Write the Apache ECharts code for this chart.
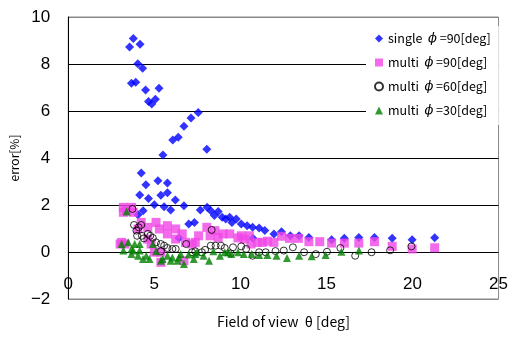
<!DOCTYPE html>
<html>
<head>
<meta charset="utf-8">
<script src="https://cdn.jsdelivr.net/npm/echarts@6/dist/echarts.min.js"></script>
<style>
  html, body { margin: 0; padding: 0; background: #fff; }
  #main { width: 511px; height: 337px; }
</style>
</head>
<body>
<div id="main"></div>
<script>
// 凡例の名前
var seriesNames = ['single', 'multi90', 'multi60', 'multi30'];

// single φ=90 [視野角, 誤差]
var singleData = [
  [3.56,8.72],[3.78,9.09],[4.17,8.84],[4.04,8.01],[4.32,7.82],[3.67,7.18],[3.92,7.22],[4.49,6.89],
  [5.27,6.97],[4.66,6.40],[4.85,6.30],[5.06,6.50],[7.55,5.94],[7.13,5.70],[6.72,5.35],[6.39,4.88],
  [6.07,4.77],[8.05,4.37],[5.50,4.13],[4.24,3.36],[4.51,2.86],[5.21,3.03],[5.76,2.94],[4.15,2.43],
  [4.66,2.28],[5.38,2.41],[5.76,2.52],[6.22,2.21],[5.00,2.01],[5.57,1.93],[5.95,1.79],[6.72,1.97],
  [4.35,1.76],[4.05,1.59],[7.00,1.19],[7.33,1.26],[6.43,0.60],[7.67,1.79],[8.07,1.90],[8.28,1.76],
  [8.49,1.55],[8.71,1.72],[8.94,1.48],[9.15,1.40],[9.38,1.48],[9.51,1.26],[9.76,1.40],[10.05,1.19],
  [10.39,1.12],[10.71,1.05],[11.09,1.02],[11.42,0.91],[11.95,0.77],[12.39,0.86],[12.90,0.69],
  [13.41,0.69],[13.98,0.62],[15.30,0.52],[16.04,0.58],[16.88,0.62],[17.79,0.62],[18.82,0.58],
  [19.98,0.52],[21.29,0.61],[10.73,0.58]
];

// multi φ=90
var multi90Data = [
  [3.01,0.34],[3.10,0.41],[3.20,1.69],[3.20,1.90],[3.29,0.34],[3.39,1.76],[3.67,1.90],[3.77,1.69],
  [4.05,0.98],[4.24,1.26],[4.62,1.05],[4.62,0.55],[4.81,0.34],[5.10,1.26],[5.29,0.98],[5.38,-0.01],
  [5.00,-0.01],[5.38,-0.44],[5.76,1.12],[5.76,0.77],[6.24,0.98],[6.24,0.55],[6.62,0.77],[6.81,0.41],
  [6.72,-0.37],[7.19,0.34],[7.38,0.41],[7.57,0.69],[8.05,1.05],[8.24,0.69],[8.52,0.91],[8.71,0.62],
  [9.00,0.77],[9.38,0.77],[9.86,0.60],[10.05,0.69],[10.23,0.55],[10.52,0.69],[10.62,0.34],[11.00,0.41],
  [11.28,0.41],[11.57,0.46],[11.95,0.41],[12.39,0.67],[12.86,0.58],[13.37,0.58],[13.98,0.44],
  [14.61,0.44],[15.30,0.38],[16.04,0.38],[16.88,0.38],[17.79,0.44],[18.82,0.24],[19.98,0.13],[21.29,0.18]
];

// multi φ=60
var multi60Data = [
  [3.73,1.83],[3.82,1.15],[3.96,0.91],[4.00,0.69],[4.09,1.05],[4.24,1.15],[4.28,0.69],[4.39,0.58],
  [4.62,0.77],[4.76,0.69],[4.91,0.60],[5.10,0.41],[5.38,0.34],[5.38,0.03],[5.57,0.27],[5.76,0.17],
  [6.05,0.13],[6.24,0.13],[6.85,0.34],[7.19,-0.01],[7.38,0.03],[7.76,-0.01],[7.95,0.09],[8.28,0.27],
  [8.33,0.94],[8.56,0.27],[8.87,0.27],[9.09,0.17],[9.44,-0.06],[9.57,0.20],[10.05,0.24],[10.33,0.13],
  [10.71,-0.16],[11.09,-0.01],[11.47,-0.01],[12.04,0.04],[12.52,0.06],[13.05,0.20],[13.70,-0.01],
  [14.38,-0.09],[15.03,0.01],[15.81,0.17],[16.67,-0.16],[17.62,-0.01],[18.70,0.07],[19.94,0.24]
];

// multi φ=30
var multi30Data = [
  [3.10,0.34],[3.20,0.06],[3.39,1.72],[3.48,0.41],[3.67,0.13],[3.67,-0.09],[3.86,0.34],[3.77,0.06],
  [4.15,0.34],[4.15,0.06],[4.05,-0.16],[4.34,-0.30],[4.53,-0.16],[4.72,-0.30],[4.91,0.34],[5.10,0.03],
  [5.38,-0.37],[5.48,-0.30],[5.76,-0.16],[5.95,-0.37],[6.05,-0.23],[6.34,-0.37],[6.43,-0.23],[6.53,-0.09],
  [6.72,-0.51],[7.00,-0.11],[7.29,-0.30],[7.38,-0.09],[7.48,-0.01],[7.86,-0.16],[8.18,-0.37],[8.43,0.03],
  [8.81,-0.16],[9.09,-0.01],[9.29,-0.01],[9.47,-0.09],[9.86,-0.01],[10.20,-0.09],[10.66,-0.09],
  [11.09,-0.13],[11.57,-0.13],[12.10,-0.16],[12.71,-0.25],[13.41,-0.16],[14.14,-0.18],[14.95,-0.13],
  [15.87,0.01],[16.89,0.06]
];

// 凡例ラベル
var legendLabels = {
  single: 'single  {p|ϕ} =90[deg]',
  multi90: 'multi  {p|ϕ} =90[deg]',
  multi60: 'multi  {p|ϕ} =60[deg]',
  multi30: 'multi  {p|ϕ} =30[deg]'
};

var chart = echarts.init(document.getElementById('main'));

var fontJP = '"Noto Sans CJK JP", "Liberation Sans", sans-serif';

var option = {
  animation: false,
  backgroundColor: '#fff',
  grid: {
    left: 64, right: 9, top: 17, bottom: 38,
    show: true,
    borderColor: '#888',
    borderWidth: 1
  },
  legend: {
    orient: 'vertical',
    left: 366,
    top: 26,
    padding: [6, 8, 8, 8],
    backgroundColor: '#fff',
    itemWidth: 8,
    itemHeight: 8,
    itemGap: 11,
    data: seriesNames,
    formatter: function(name){ return legendLabels[name]; },
    textStyle: {
      fontFamily: fontJP,
      fontSize: 12.5,
      color: '#000',
      rich: {
        p: { fontStyle: 'italic', fontSize: 13, fontFamily: 'DejaVu Serif', color: '#000' }
      }
    }
  },
  xAxis: {
    type: 'value',
    min: 0, max: 25, interval: 5,
    name: 'Field of view  θ [deg]',
    nameLocation: 'middle',
    nameGap: 16,
    nameTextStyle: { fontFamily: fontJP, fontSize: 14, color: '#000' },
    axisLine: { show: false },
    axisTick: { show: false },
    axisLabel: {
      inside: true,
      margin: 6,
      fontFamily: '"Liberation Sans", Arial, sans-serif',
      fontSize: 17,
      color: '#000'
    },
    splitLine: { show: false }
  },
  yAxis: {
    type: 'value',
    min: -2, max: 10, interval: 2,
    name: 'error[%]',
    nameLocation: 'middle',
    nameGap: 37,
    nameTextStyle: { fontFamily: fontJP, fontSize: 12, color: '#000' },
    axisLine: { show: true, onZero: false, lineStyle: { color: '#000', width: 1 } },
    axisTick: { show: false },
    axisLabel: {
      margin: 18,
      fontFamily: '"Liberation Sans", Arial, sans-serif',
      fontSize: 17,
      color: '#000',
      formatter: function(v){ return String(v).replace('-', '−'); }
    },
    splitLine: {
      show: true,
      lineStyle: { color: ['#888', '#000', '#000', '#000', '#000', '#000', '#888'], width: 1 }
    }
  },
  series: [
    {
      name: 'single',
      type: 'scatter',
      data: singleData,
      symbol: 'diamond',
      symbolSize: 9,
      itemStyle: { color: '#0000ff' }
    },
    {
      name: 'multi90',
      type: 'scatter',
      data: multi90Data,
      symbol: 'rect',
      symbolSize: 9,
      itemStyle: { color: '#f046e6' }
    },
    {
      name: 'multi60',
      type: 'scatter',
      data: multi60Data,
      symbol: 'circle',
      symbolSize: 7,
      itemStyle: { color: 'rgba(0,0,0,0)', borderColor: '#000', borderWidth: 1 }
    },
    {
      name: 'multi30',
      type: 'scatter',
      data: multi30Data,
      symbol: 'triangle',
      symbolSize: 8,
      itemStyle: { color: '#008000' }
    }
  ]
};

chart.setOption(option);

window.onresize = function(){
  chart.resize();
};
</script>
</body>
</html>
